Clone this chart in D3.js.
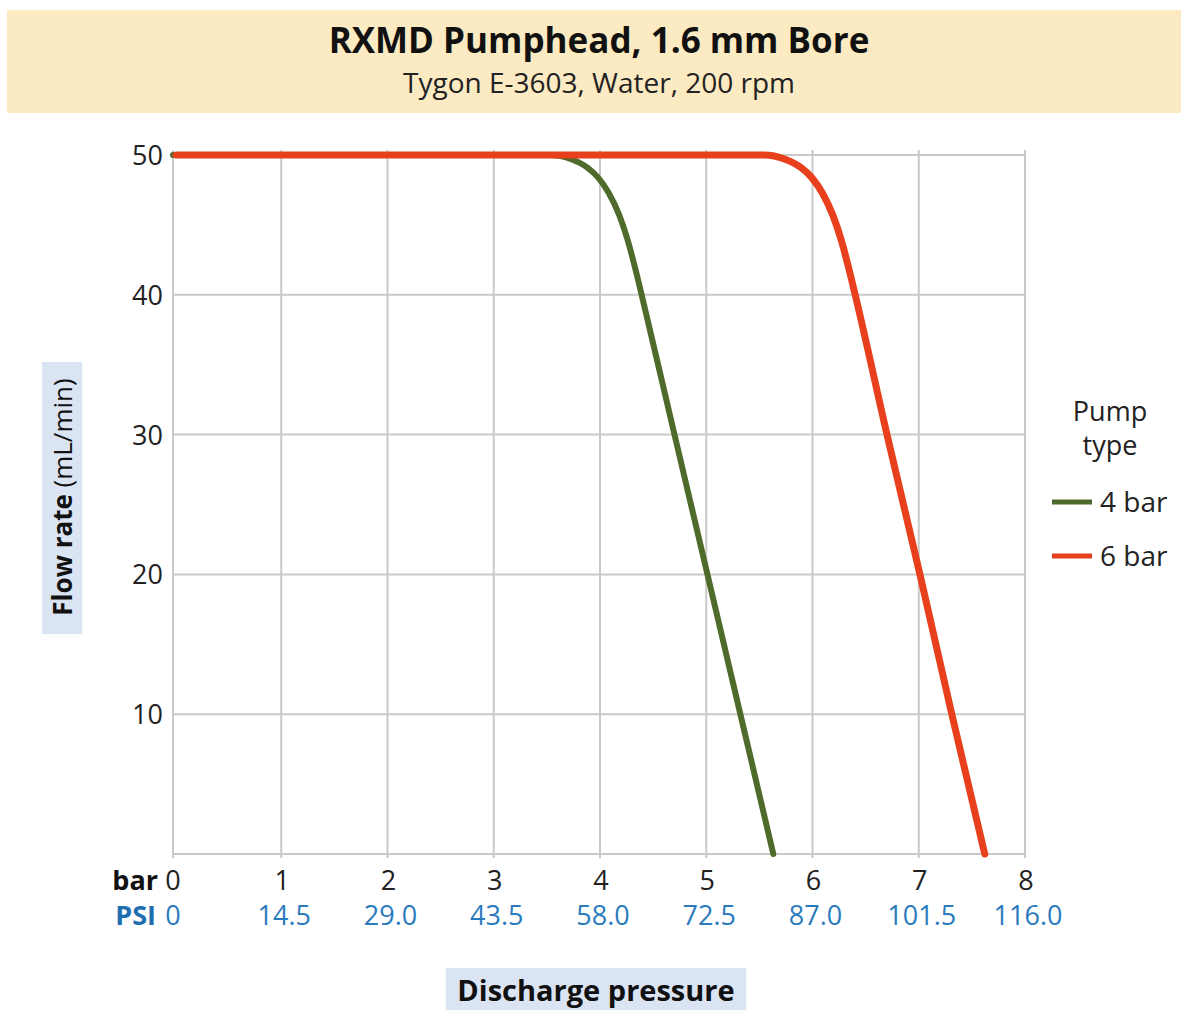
<!DOCTYPE html>
<html>
<head>
<meta charset="utf-8">
<script src="https://cdn.jsdelivr.net/npm/d3@7"></script>
<style>
  html, body { margin: 0; padding: 0; background: #fff; }
  svg { display: block; font-family: "Open Sans", "Noto Sans", sans-serif; }
</style>
</head>
<body>
<svg id="chart" width="1181" height="1010"></svg>
<script>
// ---- data ----
const titleText = "RXMD Pumphead, 1.6 mm Bore";
const subtitleText = "Tygon E-3603, Water, 200 rpm";
const barTicks = [0, 1, 2, 3, 4, 5, 6, 7, 8];
const psiLabels = ["0", "14.5", "29.0", "43.5", "58.0", "72.5", "87.0", "101.5", "116.0"];
const flowTicks = [10, 20, 30, 40, 50];
const seriesNames = ["4 bar", "6 bar"];
const seriesColors = ["#4f6b2b", "#e8401c"];
const pressure4 = [0, 3.55, 3.75, 3.9, 4.0, 4.1, 4.2, 4.28, 4.35, 4.42, 4.72, 5.03, 5.34, 5.65];
const flow4     = [50, 50, 49.7, 49.1, 48.4, 47.3, 45.7, 43.9, 41.9, 39.7, 30, 20, 10, 0];
const pressure6 = [0.03, 5.56, 5.76, 5.91, 6.01, 6.11, 6.21, 6.29, 6.36, 6.43, 6.72, 7.03, 7.33, 7.64];
const flow6     = [50, 50, 49.7, 49.1, 48.4, 47.3, 45.7, 43.9, 41.9, 39.7, 30, 20, 10, 0];

const svg = d3.select("#chart");
const W = 1181, H = 1010;

// title band
svg.append("rect").attr("x", 7).attr("y", 10).attr("width", W - 7).attr("height", 103).attr("fill", "#fcebc2");
svg.append("text").attr("x", 599).attr("y", 53).attr("text-anchor", "middle")
  .attr("font-size", 35).attr("font-weight", 700).attr("fill", "#111").text(titleText);
svg.append("text").attr("x", 599).attr("y", 93).attr("text-anchor", "middle")
  .attr("font-size", 28).attr("fill", "#222").text(subtitleText);

const x = d3.scaleLinear().domain([0, 8]).range([173, 1023]);
const y = d3.scaleLinear().domain([0, 50]).range([854, 155]);

// grid
const g = svg.append("g");
g.selectAll(".vg").data(barTicks.slice(1)).enter().append("line")
  .attr("x1", d => x(d) + 2).attr("x2", d => x(d) + 2).attr("y1", y(50) - 5).attr("y2", y(0) + 4)
  .attr("stroke", "#c9c9c9").attr("stroke-width", 2);
g.selectAll(".hg").data(flowTicks).enter().append("line")
  .attr("x1", x(0)).attr("x2", x(8) + 3).attr("y1", d => y(d)).attr("y2", d => y(d))
  .attr("stroke", "#c9c9c9").attr("stroke-width", 2);
// axes lines
g.append("line").attr("x1", x(0)).attr("x2", x(0)).attr("y1", y(50) - 5).attr("y2", y(0) + 4)
  .attr("stroke", "#c9c9c9").attr("stroke-width", 2);
g.append("line").attr("x1", x(0)).attr("x2", x(8) + 3).attr("y1", y(0)).attr("y2", y(0))
  .attr("stroke", "#c9c9c9").attr("stroke-width", 2);

// y tick labels
svg.selectAll(".yt").data(flowTicks).enter().append("text")
  .attr("x", 163).attr("y", d => y(d) + 10).attr("text-anchor", "end")
  .attr("font-size", 27).attr("fill", "#222").text(d => d);

// x tick labels
svg.selectAll(".xt").data(barTicks).enter().append("text")
  .attr("x", d => d === 0 ? x(d) : x(d) + 3).attr("y", 890).attr("text-anchor", "middle")
  .attr("font-size", 27).attr("fill", "#222").text(d => d);
svg.selectAll(".pt").data(barTicks).enter().append("text")
  .attr("x", (d, i) => x(d) + (i === 0 ? 0 : 5)).attr("y", 925).attr("text-anchor", "middle")
  .attr("font-size", 27).attr("fill", "#2a7bbd").text((d, i) => psiLabels[i]);
svg.append("text").attr("x", 158).attr("y", 890).attr("text-anchor", "end")
  .attr("font-size", 27).attr("font-weight", 700).attr("fill", "#111").text("bar");
svg.append("text").attr("x", 156).attr("y", 925).attr("text-anchor", "end")
  .attr("font-size", 27).attr("font-weight", 700).attr("fill", "#1f6fb0").text("PSI");

// x axis title
svg.append("rect").attr("x", 446).attr("y", 968).attr("width", 300).attr("height", 42).attr("fill", "#dbe4f3");
svg.append("text").attr("x", 596).attr("y", 1001).attr("text-anchor", "middle")
  .attr("font-size", 29).attr("font-weight", 700).attr("fill", "#111").text("Discharge pressure");

// y axis title
svg.append("rect").attr("x", 42).attr("y", 362).attr("width", 40).attr("height", 272).attr("fill", "#dbe4f3");
const yt = svg.append("text").attr("transform", "translate(72,497) rotate(-90)").attr("text-anchor", "middle")
  .attr("font-size", 26).attr("fill", "#111");
yt.append("tspan").attr("font-weight", 700).text("Flow rate ");
yt.append("tspan").text("(mL/min)");

// lines
const line = d3.line().x(d => x(d[0])).y(d => y(d[1])).curve(d3.curveMonotoneX);
const data4 = pressure4.map((p, i) => [p, flow4[i]]);
const data6 = pressure6.map((p, i) => [p, flow6[i]]);
svg.append("path").attr("d", line(data4)).attr("fill", "none")
  .attr("stroke", seriesColors[0]).attr("stroke-width", 6).attr("stroke-linecap", "round");
svg.append("path").attr("d", line(data6)).attr("fill", "none")
  .attr("stroke", seriesColors[1]).attr("stroke-width", 7).attr("stroke-linecap", "round");

// legend
svg.append("text").attr("x", 1110).attr("y", 421).attr("text-anchor", "middle")
  .attr("font-size", 27).attr("fill", "#222").text("Pump");
svg.append("text").attr("x", 1110).attr("y", 455).attr("text-anchor", "middle")
  .attr("font-size", 27).attr("fill", "#222").text("type");
const leg = svg.selectAll(".leg").data(seriesNames).enter().append("g")
  .attr("transform", (d, i) => `translate(0,${502 + i * 54})`);
leg.append("line").attr("x1", 1052).attr("x2", 1092).attr("y1", 0).attr("y2", 0)
  .attr("stroke", (d, i) => seriesColors[i]).attr("stroke-width", 5);
leg.append("text").attr("x", 1100).attr("y", 10).attr("font-size", 28).attr("fill", "#222").text(d => d);
</script>
</body>
</html>
